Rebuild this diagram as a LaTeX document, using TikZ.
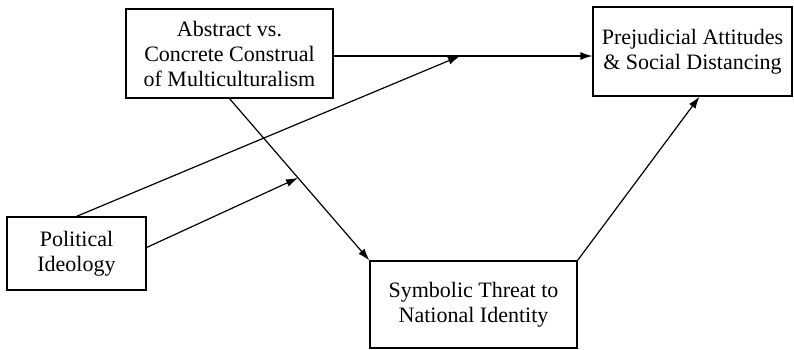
\documentclass[tikz,border=0pt]{standalone}
\usepackage{fontspec}
\setmainfont{Liberation Serif}
\usetikzlibrary{arrows.meta,calc}
\begin{document}
\begin{tikzpicture}
        [
            x=1pt, y=-1pt,
            ->,
            >={Latex[length=12pt,width=8pt]},
            line width=1.2pt,
            box/.style={rectangle, draw, align=center, inner sep=0pt,
                font=\fontsize{22}{25}\selectfont}
        ]
        \useasboundingbox (0,0) rectangle (794,349);
        \node[box, minimum width=207pt, minimum height=89pt] (construal) at (229.5, 53.5) {Abstract vs.\\Concrete Construal\\of Multiculturalism};
        \node[box, minimum width=199pt, minimum height=89pt] (prejudice) at (692.5, 51.5) {Prejudicial Attitudes\\\& Social Distancing};
        \node[box, minimum width=139pt, minimum height=73pt] (ideology) at (76.5, 253.5) {Political\\Ideology};
        \node[box, minimum width=207pt, minimum height=87pt] (threat) at (473.5, 304.5) {Symbolic Threat to\\National Identity};

        \coordinate (moda) at (460, 56);
        \coordinate (modb) at ($(construal.south)!0.49!(threat.north west)$);

        \path
        (construal.east |- moda) edge (prejudice.west |- moda)
        (construal.south) edge (threat.north west)
        (threat.north east) edge ([xshift=7pt]prejudice.south)
        (ideology.north) edge (moda)
        ([yshift=6pt]ideology.east) edge (modb);

    \end{tikzpicture}
\end{document}
